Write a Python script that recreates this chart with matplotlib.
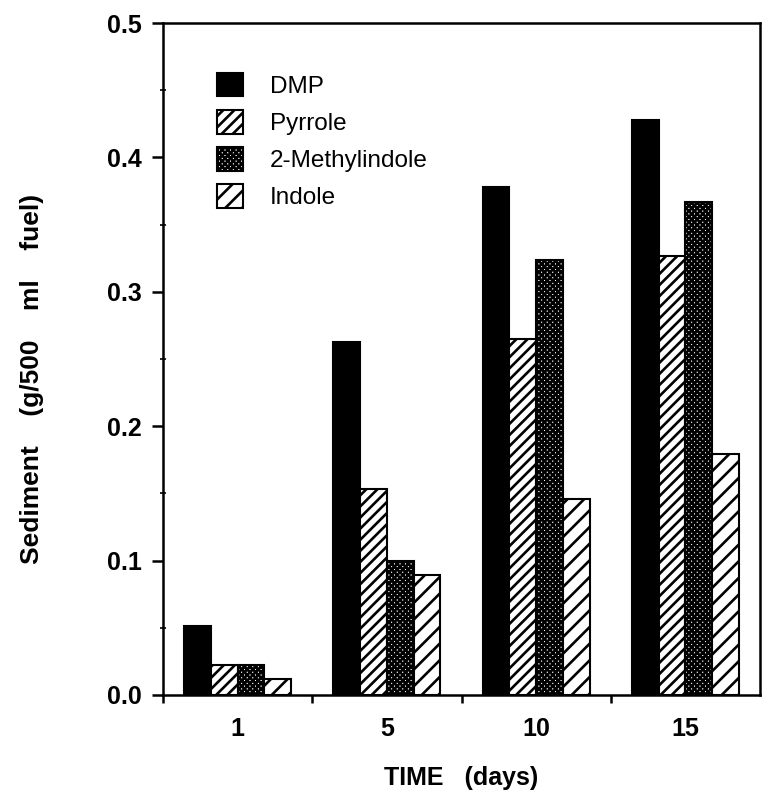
import numpy as np
import matplotlib
matplotlib.use("Agg")
import matplotlib.pyplot as plt
from matplotlib.ticker import MultipleLocator, FixedLocator

# sediment (g/500 ml fuel)
days = ['1', '5', '10', '15']
dmp = [0.051, 0.263, 0.378, 0.428]
pyrrole = [0.022, 0.153, 0.265, 0.327]
methylindole = [0.022, 0.100, 0.324, 0.367]
indole = [0.012, 0.089, 0.146, 0.179]

series_names = ['DMP', 'Pyrrole', '2-Methylindole', 'Indole']

plt.rcParams['font.family'] = ['Liberation Sans', 'DejaVu Sans']
plt.rcParams['hatch.linewidth'] = 1.9

fig = plt.figure(figsize=(7.64, 7.96), dpi=100)
ax = fig.add_axes([0.2134, 0.1269, 0.7814, 0.8442])

x = np.arange(len(days))
w = 0.179

styles = [
    dict(color='black', edgecolor='black'),
    dict(facecolor='white', edgecolor='black', hatch='///'),
    dict(facecolor='white', edgecolor='black', hatch='xxxxxx'),
    dict(facecolor='white', edgecolor='black', hatch='//'),
]
for i, (vals, name) in enumerate(zip([dmp, pyrrole, methylindole, indole], series_names)):
    ax.bar(x + (i - 1.5) * w, vals, width=w, label=name, linewidth=1.5, **styles[i])

ax.set_xlim(-0.5, 3.5)
ax.set_ylim(0, 0.5)

# group separators as major ticks, day labels at the group centres
ax.xaxis.set_major_locator(FixedLocator([-0.5, 0.5, 1.5, 2.5]))
ax.xaxis.set_minor_locator(FixedLocator(x))
ax.set_xticklabels([], minor=False)
ax.set_xticklabels(days, minor=True, fontsize=18, fontweight='bold')
ax.tick_params(axis='x', which='major', direction='out', length=6, width=1.8)
ax.tick_params(axis='x', which='minor', length=0, pad=16)

ax.yaxis.set_major_locator(MultipleLocator(0.1))
ax.yaxis.set_minor_locator(MultipleLocator(0.05))
ax.set_yticks(np.arange(0, 0.51, 0.1))
ax.set_yticklabels([f"{v:.1f}" for v in np.arange(0, 0.51, 0.1)], fontsize=18, fontweight='bold')
ax.tick_params(axis='y', which='major', direction='out', length=8, width=1.8, pad=7)
ax.tick_params(axis='y', which='minor', direction='inout', length=5, width=1.2)

for s in ax.spines.values():
    s.set_linewidth(1.8)

ax.set_xlabel('TIME   (days)', fontsize=18, fontweight='bold', va='center')
ax.xaxis.set_label_coords(0.5, -0.1235)
ax.set_ylabel('Sediment    (g/500    ml    fuel)', fontsize=19, fontweight='bold', va='center')
ax.yaxis.set_label_coords(-0.219, 0.47)

ax.legend(loc='upper left', bbox_to_anchor=(0.053, 0.958), frameon=False,
          fontsize=17.5, handlelength=1.1, handleheight=1.1, handletextpad=1.1,
          labelspacing=0.5)

fig.savefig('out.png', dpi=100)
